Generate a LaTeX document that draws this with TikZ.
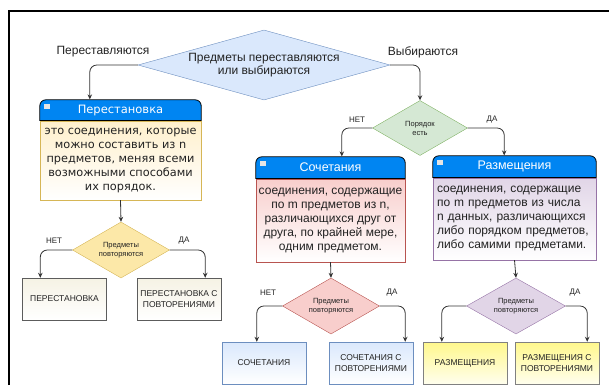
\documentclass[tikz,border=0pt]{standalone}
\usepackage{fontspec}
\setmainfont{Liberation Sans}
\newfontfamily\verdanafont{DejaVu Sans}
\usetikzlibrary{shapes.geometric,arrows.meta,positioning}
\definecolor{HeadBlue}{RGB}{0, 133, 242}
\definecolor{LineGray}{RGB}{51, 51, 51}
\definecolor{TextDark}{RGB}{34, 34, 34}
\definecolor{MainFill}{RGB}{218, 232, 252}
\definecolor{MainDraw}{RGB}{108, 142, 191}
\definecolor{GoldFill}{RGB}{252, 232, 168}
\definecolor{GoldDraw}{RGB}{214, 182, 86}
\definecolor{GreenFill}{RGB}{213, 232, 212}
\definecolor{GreenDraw}{RGB}{130, 179, 102}
\definecolor{PinkFill}{RGB}{248, 206, 204}
\definecolor{PinkDraw}{RGB}{184, 84, 80}
\definecolor{LilacFill}{RGB}{225, 213, 231}
\definecolor{LilacDraw}{RGB}{150, 115, 166}
\definecolor{CreamTop}{RGB}{255, 240, 204}
\definecolor{BeigeTop}{RGB}{245, 242, 228}
\definecolor{LemonTop}{RGB}{255, 248, 140}
\begin{document}
\begin{tikzpicture}[x=1pt, y=-1pt,
  conn/.style={draw=LineGray, line width=0.8pt, rounded corners=7pt, -{Stealth[length=5pt,width=4.5pt]}},
  decision/.style={diamond, draw, inner sep=0pt, aspect=1.73, align=center, text=TextDark, font=\fontsize{7.5}{9}\selectfont},
  card/.style={rectangle, draw, inner sep=2pt, align=center, text=TextDark, font=\fontsize{12}{14}\selectfont},
  header/.style={rectangle, inner sep=0pt, minimum height=21, text=white, font=\fontsize{12.5}{14}\selectfont},
  headbox/.style={fill=HeadBlue, draw=black, line width=0.8pt, rounded corners=6pt},
  leaf/.style={rectangle, draw, minimum width=84, minimum height=42, align=center, text=TextDark, font=\fontsize{8.5}{11}\selectfont},
  lbl/.style={text=TextDark, font=\fontsize{12}{14}\selectfont},
  yn/.style={text=TextDark, font=\fontsize{8}{10}\selectfont}]
  \useasboundingbox (0,0) rectangle (609,385);

  % Frame
  \draw[line width=1.8pt] (9,385) -- (9,11) -- (609,11);

  % Top question
  \node[decision, fill=MainFill, draw=MainDraw, aspect=3.6, minimum width=252, minimum height=70, font=\fontsize{12}{13}\selectfont] (main) at (264,65) {Предметы переставляются\\или выбираются};
  \node[lbl] (lblPer) at (103,52) {Переставляются};
  \node[lbl] (lblVyb) at (423,52) {Выбираются};

  % Permutation card
  \node[card, minimum width=161, minimum height=79, top color=CreamTop, bottom color=white, draw=GoldDraw, font=\verdanafont\fontsize{11.3}{14}\selectfont] (perest) at (120.5,160.5) {это соединения, которые\\можно составить из n\\предметов, меняя всеми\\возможными способами\\их порядок.};
  \filldraw[headbox] (perest.north west) -- ++(0,-21) -- ([yshift=21pt]perest.north east) -- (perest.north east);
  \draw[line width=0.8pt] (perest.north west) -- (perest.north east);
  \node[header, minimum width=161, above=0pt of perest, font=\verdanafont\fontsize{11.5}{14}\selectfont] (perestH) {Перестановка};
  \fill[white!80!gray] ([xshift=4pt,yshift=12pt]perest.north west) rectangle ++(6,-5);

  % Order question
  \node[decision, fill=GreenFill, draw=GreenDraw, minimum width=95, minimum height=55] (order) at (420,128) {Порядок\\есть};
  \node[yn] (nOrder) at (357,120) {НЕТ};
  \node[yn] (yOrder) at (492,120) {ДА};

  % Combination card
  \node[card, minimum width=149, minimum height=83, top color=PinkFill, bottom color=white, draw=PinkDraw] (soch) at (330.5,220.5) {соединения, содержащие\\по m предметов из n,\\различающихся друг от\\друга, по крайней мере,\\одним предметом.};
  \filldraw[headbox] (soch.north west) -- ++(0,-22) -- ([yshift=22pt]soch.north east) -- (soch.north east);
  \draw[line width=0.8pt] (soch.north west) -- (soch.north east);
  \node[header, minimum width=149, minimum height=22, above=0pt of soch] (sochH) {Сочетания};
  \fill[white!80!gray] ([xshift=4pt,yshift=13pt]soch.north west) rectangle ++(6,-5);

  % Arrangement card
  \node[card, inner sep=4pt, text width=155, minimum height=82, align=left, top color=LilacFill, bottom color=white, draw=LilacDraw] (razm) at (514.5,219) {соединения, содержащие\\по m предметов из числа\\n данных, различающихся\\либо порядком предметов,\\либо самими предметами.};
  \filldraw[headbox] (razm.north west) -- ++(0,-22) -- ([yshift=22pt]razm.north east) -- (razm.north east);
  \draw[line width=0.8pt] (razm.north west) -- (razm.north east);
  \node[header, minimum width=163, minimum height=22, above=0pt of razm] (razmH) {Размещения};
  \fill[white!80!gray] ([xshift=4pt,yshift=13pt]razm.north west) rectangle ++(6,-5);

  % Repetition questions
  \node[decision, fill=GoldFill, draw=GoldDraw, minimum width=97, minimum height=56] (perestD) at (121,250) {Предметы\\повторяются};
  \node[decision, fill=PinkFill, draw=PinkDraw, minimum width=97, minimum height=56] (sochD) at (331,306) {Предметы\\повторяются};
  \node[decision, fill=LilacFill, draw=LilacDraw, minimum width=99, minimum height=56] (razmD) at (516,306) {Предметы\\повторяются};
  \node[yn] (nPerest) at (54,241) {НЕТ};
  \node[yn] (yPerest) at (184,241) {ДА};
  \node[yn] (nSoch) at (268,293) {НЕТ};
  \node[yn] (ySoch) at (392,293) {ДА};
  \node[yn] (yRazm) at (575,293) {ДА};

  % Results
  \node[leaf, top color=BeigeTop, bottom color=white, draw=LineGray!80] (perestA) at (64.5,299) {ПЕРЕСТАНОВКА};
  \node[leaf, top color=BeigeTop, bottom color=white, draw=LineGray!80] (perestB) at (179,299) {ПЕРЕСТАНОВКА С\\ПОВТОРЕНИЯМИ};
  \node[leaf, top color=MainFill, bottom color=white, draw=MainDraw] (sochA) at (264,363) {СОЧЕТАНИЯ};
  \node[leaf, top color=MainFill, bottom color=white, draw=MainDraw] (sochB) at (371,363) {СОЧЕТАНИЯ С\\ПОВТОРЕНИЯМИ};
  \node[leaf, top color=LemonTop, bottom color=LemonTop!15, draw=gray] (razmA) at (465,363) {РАЗМЕЩЕНИЯ};
  \node[leaf, top color=LemonTop, bottom color=LemonTop!15, draw=gray] (razmB) at (557,363) {РАЗМЕЩЕНИЯ С\\ПОВТОРЕНИЯМИ};

  % Connectors
  \draw[conn] (main.west) -| ([xshift=50pt]perestH.north west);
  \draw[conn] (main.east) -| (order.north);
  \draw[conn] (order.west) -| ([xshift=86pt]sochH.north west);
  \draw[conn] (order.east) -| ([xshift=-92pt]razmH.north east);
  \draw[conn] (perest.south) -- (perestD.north);
  \draw[conn] (perestD.west) -| ([xshift=18pt]perestA.north west);
  \draw[conn] (perestD.east) -| ([xshift=-16pt]perestB.north east);
  \draw[conn] (soch.south) -- (sochD.north);
  \draw[conn] (sochD.west) -| ([xshift=35pt]sochA.north west);
  \draw[conn] (sochD.east) -| ([xshift=-8pt]sochB.north east);
  \draw[conn] (razm.south) -- (razmD.north);
  \draw[conn] (razmD.west) -| ([xshift=19pt]razmA.north west);
  \draw[conn] (razmD.east) -| ([xshift=-12pt]razmB.north east);
\end{tikzpicture}
\end{document}
